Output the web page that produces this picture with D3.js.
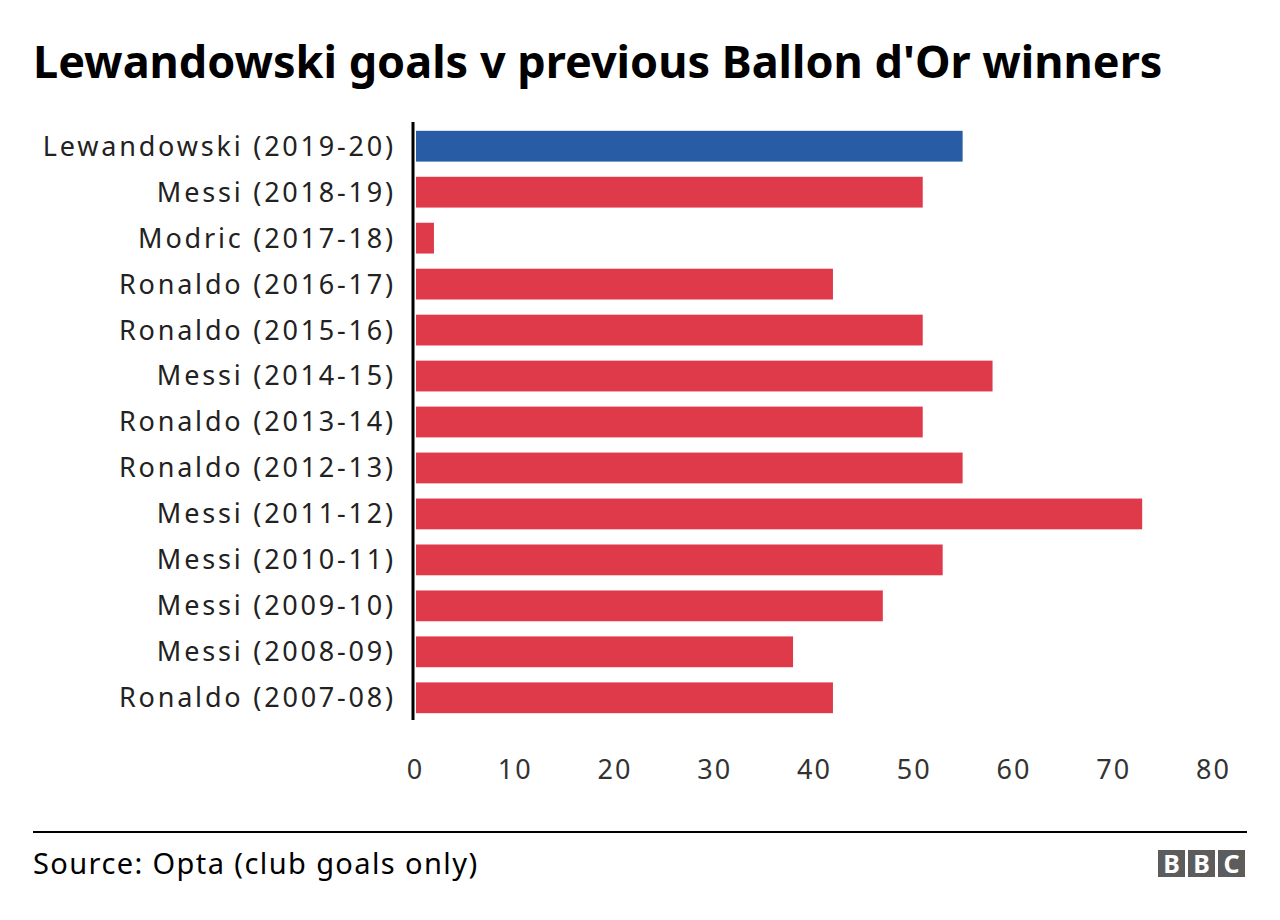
<!DOCTYPE html>
<html>
<head>
<meta charset="utf-8">
<script src="https://cdn.jsdelivr.net/npm/d3@7"></script>
<style>
  body { margin: 0; background: #fff; }
  svg { font-family: "Noto Sans", "Open Sans", sans-serif; }
</style>
</head>
<body>
<svg class="board" width="1280" height="920"></svg>
<script>
var players = ['Lewandowski (2019-20)', 'Messi (2018-19)', 'Modric (2017-18)', 'Ronaldo (2016-17)',
  'Ronaldo (2015-16)', 'Messi (2014-15)', 'Ronaldo (2013-14)', 'Ronaldo (2012-13)',
  'Messi (2011-12)', 'Messi (2010-11)', 'Messi (2009-10)', 'Messi (2008-09)', 'Ronaldo (2007-08)'];
var goals = [55, 51, 2, 42, 51, 58, 51, 55, 73, 53, 47, 38, 42];
var xTicks = [0, 10, 20, 30, 40, 50, 60, 70, 80];

var svg = d3.select('.board');

var x = d3.scaleLinear().domain([0, 80]).range([414, 1212]);
var y = d3.scaleBand().domain(players).range([123, 721]).paddingInner(0.33).paddingOuter(0.17);

svg.append('text')
  .attr('x', 33).attr('y', 78)
  .attr('font-size', 45).attr('font-weight', 700).attr('fill', '#000')
  .text("Lewandowski goals v previous Ballon d'Or winners");

svg.append('g').selectAll('rect').data(players).enter().append('rect')
  .attr('x', x(0) + 2)
  .attr('y', d => y(d))
  .attr('width', (d, i) => x(goals[i]) - x(0) - 2)
  .attr('height', y.bandwidth())
  .attr('fill', (d, i) => i === 0 ? '#285ca4' : '#de3a4a');

// category labels
svg.append('g').selectAll('text').data(players).enter().append('text')
  .attr('x', 396)
  .attr('y', d => y(d) + y.bandwidth() / 2)
  .attr('dy', '0.35em')
  .attr('text-anchor', 'end')
  .attr('font-size', 27).attr('letter-spacing', 2.8).attr('fill', '#222')
  .text(d => d);

svg.append('line')
  .attr('x1', 413).attr('x2', 413).attr('y1', 122).attr('y2', 720)
  .attr('stroke', '#000').attr('stroke-width', 3);

var xAxis = svg.append('g').attr('transform', 'translate(1,770)')
  .call(d3.axisBottom(x).tickValues(xTicks).tickSize(0).tickPadding(0));
xAxis.select('.domain').remove();
xAxis.selectAll('text')
  .attr('font-family', '"Noto Sans", "Open Sans", sans-serif')
  .attr('font-size', 27).attr('letter-spacing', 2).attr('fill', '#333').attr('dy', '0.35em');

svg.append('line')
  .attr('x1', 33).attr('x2', 1247).attr('y1', 832).attr('y2', 832)
  .attr('stroke', '#000').attr('stroke-width', 2);

svg.append('text')
  .attr('x', 33).attr('y', 874)
  .attr('font-size', 29).attr('letter-spacing', 1.4).attr('fill', '#000')
  .text('Source: Opta (club goals only)');

// BBC logo
var logo = svg.append('g').attr('transform', 'translate(1158,850)');
['B', 'B', 'C'].forEach(function (ch, i) {
  logo.append('rect').attr('x', i * 30).attr('y', 0).attr('width', 27).attr('height', 27).attr('fill', '#5c5c5c');
  logo.append('text').attr('x', i * 30 + 13.5).attr('y', 23)
    .attr('text-anchor', 'middle').attr('font-size', 25).attr('font-weight', 700)
    .attr('fill', '#fff').text(ch);
});
</script>
</body>
</html>
